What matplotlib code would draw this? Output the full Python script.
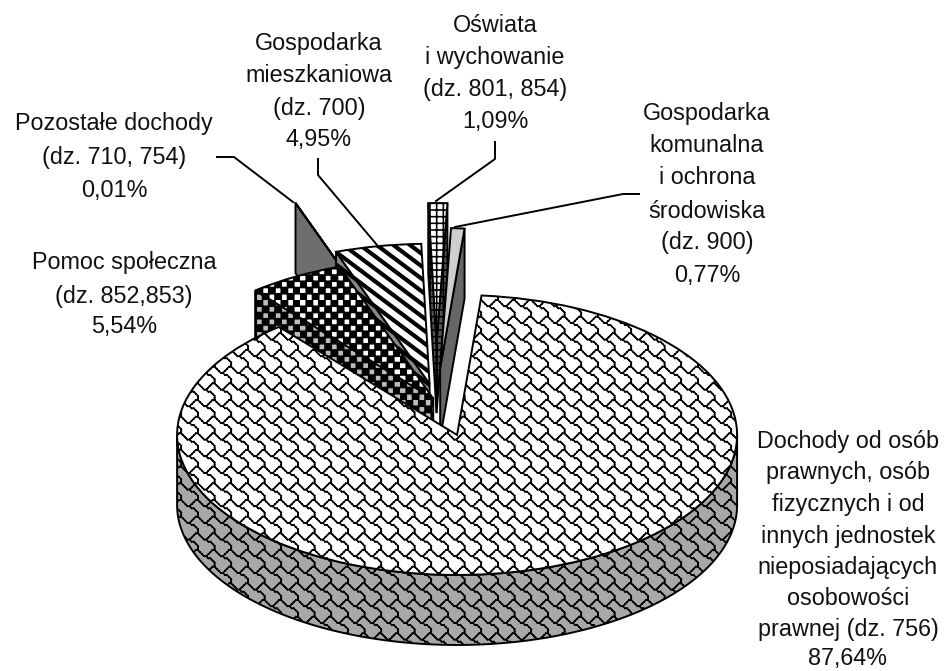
import numpy as np
import matplotlib
matplotlib.use("Agg")
import matplotlib.pyplot as plt
from matplotlib import hatch as mhatch
from matplotlib.path import Path
from matplotlib.patches import Polygon

W, H = 945, 671

# ---- data -------------------------------------------------------------
categories = ["Dochody od osób", "Pomoc społeczna", "Pozostałe dochody",
              "Gospodarka mieszkaniowa", "Oświata i wychowanie", "Gospodarka komunalna"]
values = [87.64, 5.54, 0.01, 4.95, 1.09, 0.77]
explode = [0.254, 0.02, 0.50, 0.125, 0.414, 0.236]
start_angle = 85
top_hatch = ["x", "o", None, "/", "+", None]
top_face = ["white", "white", "#6e6e6e", "white", "white", "#cfcfcf"]
side_face = ["#a8a8a8", "#bcbcbc", "#6e6e6e", "#888888", "#555555", "#666666"]
side_hatch = ["x", "o", None, "/", "+", None]
layer = [6, 5, 1, 2, 3, 4]

labels = [
    (["Oświata", "i wychowanie", "(dz. 801, 854)", "1,09%"], 495, [32, 64, 96, 128]),
    (["Gospodarka", "mieszkaniowa", "(dz. 700)", "4,95%"], 319, [50, 82, 115, 146]),
    (["Pozostałe dochody", "(dz. 710, 754)", "0,01%"], 114, [130, 164, 197]),
    (["Pomoc społeczna", "(dz. 852,853)", "5,54%"], 124, [269, 303, 333]),
    (["Gospodarka", "komunalna", "i ochrona", "środowiska", "(dz. 900)", "0,77%"], 707,
     [120, 152, 184, 218, 249, 282]),
    (["Dochody od osób", "prawnych, osób", "fizycznych i od", "innych jednostek",
      "nieposiadających", "osobowości", "prawnej (dz. 756)", "87,64%"], 848,
     [448, 479, 511, 543, 574, 605, 636, 665]),
]
leaders = [
    [(217, 157), (234, 157), (293, 202)],
    [(318, 159), (318, 175), (377, 245)],
    [(495, 142), (495, 159), (436, 201)],
    [(639, 194), (623, 194), (455, 227)],
]


# ---- fill patterns, registered as matplotlib hatches ---------------------
def _shingle_segments(n=6):
    wave = [(0, 1), (1, 2), (2, 3), (3, 3), (4, 2), (5, 1), (6, 0), (7, 0), (8, 1)]
    stem = [(3, 3), (4, 4), (5, 4), (6, 5), (7, 6), (7, 7), (7, 8)]
    s = 1 / n
    segs = []
    for poly in (wave, stem):
        for (x0, y0), (x1, y1) in zip(poly[:-1], poly[1:]):
            for i in range(-1, n + 1):
                for j in range(-1, n + 1):
                    a = ((i + x0 / 8) * s, 1 - (j + y0 / 8) * s)
                    b = ((i + x1 / 8) * s, 1 - (j + y1 / 8) * s)
                    segs.append((a, b))
    return segs


def _grid_segments(n=15):
    segs = []
    for k in range(n):
        t = k / n + 0.5 / n
        segs.append(((t, 0), (t, 1)))
        segs.append(((0, t), (1, t)))
    return segs


def _checker_polys(n=16):
    polys = []
    s = 1 / n
    for i in range(n):
        for j in range(n):
            if (i + j) % 2 == 0:
                x, y = i * s, j * s
                polys.append([(x, y), (x + s, y), (x + s, y + s), (x, y + s)])
    return polys


def _stripe_polys(a=6, b=8, thick=0.016):
    polys = []
    for k in range(-1, a + b + 2):
        y0, y1 = k / b, (k - a) / b
        polys.append([(0, y0 - thick), (1, y1 - thick), (1, y1 + thick), (0, y0 + thick)])
    return polys


class ChartHatch(mhatch.HatchPatternBase):
    def __init__(self, hatch, density):
        self.segs, self.polys = [], []
        if "x" in hatch:
            self.segs = _shingle_segments()
        if "+" in hatch:
            self.segs = _grid_segments()
        if "o" in hatch:
            self.polys = _checker_polys()
        if "/" in hatch:
            self.polys = _stripe_polys()
        self.num_vertices = 2 * len(self.segs) + 5 * len(self.polys)

    def set_vertices_and_codes(self, vertices, codes):
        c = 0
        for a, b in self.segs:
            vertices[c], vertices[c + 1] = a, b
            codes[c], codes[c + 1] = Path.MOVETO, Path.LINETO
            c += 2
        for poly in self.polys:
            for i, v in enumerate(poly):
                vertices[c + i] = v
                codes[c + i] = Path.MOVETO if i == 0 else Path.LINETO
            vertices[c + 4] = poly[0]
            codes[c + 4] = Path.CLOSEPOLY
            c += 5


mhatch._hatch_types = [ChartHatch]
plt.rcParams["hatch.linewidth"] = 1.15
plt.rcParams["font.family"] = ["Liberation Sans", "DejaVu Sans"]

# ---- pie ----------------------------------------------------------------
fig = plt.figure(figsize=(W / 100, H / 100), dpi=100, facecolor="white")
ax = fig.add_axes([0, 0, 1, 1])
wedges, _ = ax.pie(values, explode=explode, startangle=start_angle, counterclock=False,
                   radius=1.0, center=(0, 0),
                   wedgeprops=dict(edgecolor="black", linewidth=1.4))

RX, RY, CX, CY = 280.0, 140.0, 436.0, 401.0
ax.set_aspect("auto")
ax.set_xlim(-CX / RX, (W - CX) / RX)
ax.set_ylim((CY - H) / RY, CY / RY)
ax.axis("off")
depth = 70 / RY


def side(verts, face, hatch, z):
    ax.add_patch(Polygon(verts, closed=True, facecolor=face, edgecolor="black",
                         linewidth=1.4, hatch=hatch, zorder=z))


for w, h, tf, sf, sh, z in zip(wedges, top_hatch, top_face, side_face, side_hatch, layer):
    w.set_facecolor(tf)
    w.set_hatch(h)
    w.set_zorder(z + 0.5)
    cx, cy = w.center
    r = w.r
    t1, t2 = w.theta1, w.theta2
    # radial walls seen from the front
    for th, sign in ((t1, -1), (t2, 1)):
        rad = np.deg2rad(th)
        if sign * np.cos(rad) < 0:
            px, py = cx + r * np.cos(rad), cy + r * np.sin(rad)
            side([(cx, cy), (px, py), (px, py - depth), (cx, cy - depth)], sf, sh, z)
    # rim seen from the front
    ts = np.deg2rad(np.linspace(t1, t2, 721))
    ts = ts[np.sin(ts) <= 0]
    if len(ts) > 1:
        xs, ys = cx + r * np.cos(ts), cy + r * np.sin(ts)
        verts = list(zip(xs, ys)) + list(zip(xs[::-1], ys[::-1] - depth))
        side(verts, sf, sh, z + 0.2)

# ---- text and leader lines, positioned in figure pixels -------------------
def fx(x):
    return x / W


def fy(y):
    return 1 - y / H


for lines, xc, ys in labels:
    for line, y in zip(lines, ys):
        fig.text(fx(xc), fy(y), line, ha="center", va="baseline", fontsize=16.8,
                 color="#111111")

for pts in leaders:
    fig.add_artist(plt.Line2D([fx(p[0]) for p in pts], [fy(p[1]) for p in pts],
                              color="black", lw=1.4, transform=fig.transFigure))

fig.savefig("out.png", dpi=100, facecolor="white")
